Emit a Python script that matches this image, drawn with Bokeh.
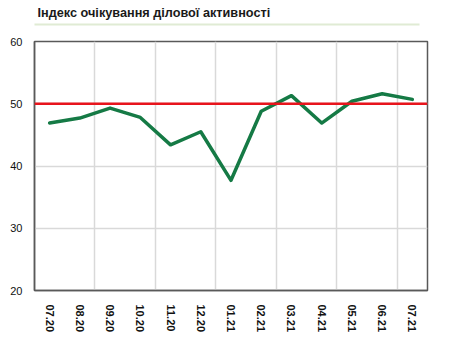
from bokeh.plotting import figure
from bokeh.models import FixedTicker, Span, Grid, Range1d
from bokeh.layouts import column
from bokeh.core.properties import value
from bokeh.embed import file_html
from bokeh.resources import INLINE

months = ["07.20", "08.20", "09.20", "10.20", "11.20", "12.20", "01.21",
          "02.21", "03.21", "04.21", "05.21", "06.21", "07.21"]
index_values = [46.9, 47.7, 49.3, 47.8, 43.4, 45.5, 37.7, 48.8, 51.3, 46.9, 50.4, 51.6, 50.7]
threshold = 50
y_ticks = [20, 30, 40, 50, 60]
title_text = "Індекс очікування ділової активності"

W = 454
HEAD_H = 33
BL, BR = 34, 27

# ---- header (title + thin underline), in pixel-space coordinates ----
# (column() aligns the header frame with the chart frame, so map pixels BL..W-BR)
head = figure(width=W, height=HEAD_H, output_backend="svg", toolbar_location=None,
              x_range=Range1d(BL, W - BR), y_range=Range1d(0, HEAD_H),
              x_axis_location=None, y_axis_location=None,
              min_border_left=BL, min_border_right=BR, min_border_top=0, min_border_bottom=0)
head.outline_line_color = None
head.grid.visible = False
head.text(x=[37], y=[HEAD_H - 12.5], text=[title_text],
          text_font=value("Liberation Sans"), text_font_size="12.7px",
          text_font_style="bold", text_color="#1a1a1a",
          text_baseline="middle", text_align="left")
head.segment(x0=[31], y0=[HEAD_H - 24], x1=[419], y1=[HEAD_H - 24],
             line_color="#e0ebd4", line_width=2)

# ---- main chart ----
xs = list(range(len(months)))

p = figure(width=W, height=351 - HEAD_H, output_backend="svg", toolbar_location=None,
           x_range=Range1d(-0.5, len(months) - 0.5), y_range=Range1d(20, 60),
           min_border_left=BL, min_border_right=BR, min_border_top=8, min_border_bottom=61)

p.yaxis.ticker = FixedTicker(ticks=y_ticks)
p.xaxis.ticker = FixedTicker(ticks=xs)
p.xaxis.major_label_overrides = {i: m for i, m in zip(xs, months)}
p.xaxis.major_label_orientation = "vertical"
for ax in (p.xaxis, p.yaxis):
    ax.major_tick_line_color = None
    ax.minor_tick_line_color = None
    ax.axis_line_color = "#595959"
    ax.axis_line_width = 1.5
    ax.major_label_text_font = "Liberation Sans"
    ax.major_label_text_font_size = "11px"
    ax.major_label_text_color = "#111111"
p.xaxis.major_label_text_font_style = "bold"
p.xaxis.major_label_standoff = 8
p.yaxis.major_label_standoff = 6

p.outline_line_color = "#595959"
p.outline_line_width = 1.5

p.xgrid.visible = False
p.ygrid.grid_line_color = "#d9d9d9"
p.ygrid.grid_line_width = 1.5
vgrid = Grid(dimension=0, ticker=FixedTicker(ticks=[1.5, 3.5, 5.5, 7.5, 9.5, 11.5]),
             grid_line_color="#d9d9d9", grid_line_width=1.5)
p.add_layout(vgrid)

p.add_layout(Span(location=threshold, dimension="width", line_color="#e8141c", line_width=2.5))

p.line(xs, index_values, line_color="#157a45", line_width=3.5, line_join="round", line_cap="round")

layout = column(head, p, spacing=0)
open("out.html", "w").write(file_html(layout, INLINE))
